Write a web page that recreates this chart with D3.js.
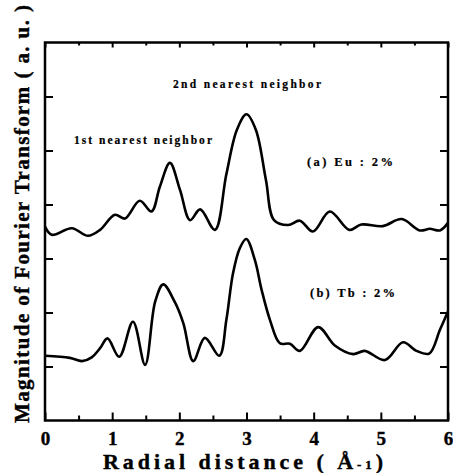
<!DOCTYPE html>
<meta charset="utf-8">
<style>
  body { margin: 0; background: #fff; }
  text { font-family: "Liberation Serif", "Times New Roman", serif; font-weight: 700; fill: #000; stroke: #000; stroke-width: 0.4px; }
  .curve { fill: none; stroke: #000; stroke-width: 2.6px; stroke-linejoin: round; }
</style>
<svg width="453" height="473"></svg>
<script src="https://cdn.jsdelivr.net/npm/d3@7"></script>
<script>

// radial distance (x) / magnitude (y, arbitrary units, curves offset)
var euX = [0, 0.10, 0.40, 0.64, 0.82, 1.04, 1.19, 1.41, 1.585, 1.71, 1.86, 2.01, 2.16, 2.31, 2.53, 2.70, 2.856, 3.0, 3.14, 3.29, 3.41, 3.62, 3.795, 3.99, 4.24, 4.53, 4.71, 5.03, 5.31, 5.58, 5.73, 5.88, 6.0];
var euY = [3.59, 3.44, 3.56, 3.42, 3.53, 3.81, 3.74, 4.07, 3.87, 4.33, 4.77, 4.27, 3.71, 3.91, 3.53, 4.56, 5.38, 5.67, 5.38, 4.45, 3.71, 3.62, 3.70, 3.50, 3.87, 3.53, 3.63, 3.60, 3.73, 3.52, 3.55, 3.52, 3.66];

var tbX = [0, 0.37, 0.55, 0.695, 0.82, 0.93, 1.105, 1.31, 1.49, 1.64, 1.76, 1.93, 2.06, 2.207, 2.38, 2.595, 2.70, 2.80, 2.90, 2.997, 3.125, 3.225, 3.35, 3.497, 3.646, 3.795, 4.067, 4.315, 4.588, 4.76, 5.06, 5.33, 5.53, 5.72, 5.88, 6.0];
var tbY = [1.20, 1.16, 1.10, 1.17, 1.34, 1.52, 1.18, 1.83, 1.03, 2.20, 2.52, 2.20, 1.80, 1.10, 1.53, 1.20, 1.86, 2.73, 3.19, 3.36, 2.97, 2.42, 1.86, 1.43, 1.42, 1.29, 1.73, 1.39, 1.23, 1.29, 1.12, 1.45, 1.29, 1.24, 1.68, 2.02];

var xTicks = [0, 1, 2, 3, 4, 5, 6];
var xMinor = [0.5, 1.5, 2.5, 3.5, 4.5, 5.5];
var yTicks = [1, 2, 3, 4, 5, 6];

var svg = d3.select("svg"),
    margin = {top: 42.5, right: 5, bottom: 52.5, left: 45},
    width = +svg.attr("width") - margin.left - margin.right,
    height = +svg.attr("height") - margin.top - margin.bottom,
    g = svg.append("g").attr("transform", "translate(" + margin.left + "," + margin.top + ")");

var x = d3.scaleLinear().domain([0, 6]).range([0, width]);
var y = d3.scaleLinear().domain([0, 7]).range([height, 0]);

var line = d3.line()
    .x(function(d) { return x(d[0]); })
    .y(function(d) { return y(d[1]); })
    .curve(d3.curveCatmullRom.alpha(0.5));

function axisStyle(sel) {
  sel.select(".domain").remove();
  sel.selectAll("line").attr("stroke", "#000").attr("stroke-width", 2);
}

// bottom axis with labels
g.append("g")
    .attr("transform", "translate(0," + height + ")")
    .call(d3.axisBottom(x).tickValues(xTicks).tickSize(-8).tickPadding(11).tickFormat(d3.format("d")))
    .call(axisStyle)
    .call(function(s) {
      s.attr("font-family", null).attr("font-size", null);
      s.selectAll("text").style("font-size", "19px");
    });
g.append("g")
    .attr("transform", "translate(0," + height + ")")
    .call(d3.axisBottom(x).tickValues(xMinor).tickSize(-5).tickFormat(""))
    .call(axisStyle);

// top axis
g.append("g")
    .call(d3.axisTop(x).tickValues(xTicks).tickSize(-5).tickFormat(""))
    .call(axisStyle);
g.append("g")
    .call(d3.axisTop(x).tickValues(xMinor).tickSize(-3).tickFormat(""))
    .call(axisStyle);

// left / right axes
g.append("g")
    .call(d3.axisLeft(y).tickValues(yTicks).tickSize(-8).tickFormat(""))
    .call(axisStyle);
g.append("g")
    .attr("transform", "translate(" + width + ",0)")
    .call(d3.axisRight(y).tickValues(yTicks).tickSize(-8).tickFormat(""))
    .call(axisStyle);

// frame
g.append("rect")
    .attr("width", width)
    .attr("height", height)
    .attr("fill", "none")
    .attr("stroke", "#000")
    .attr("stroke-width", 2.5);

g.append("path")
    .datum(d3.zip(euX, euY))
    .attr("class", "curve")
    .attr("d", line);

g.append("path")
    .datum(d3.zip(tbX, tbY))
    .attr("class", "curve")
    .attr("d", line);

// annotations
function note(txt, x0, x1, yb, size) {
  svg.append("text")
      .attr("x", x0)
      .attr("y", yb)
      .attr("textLength", x1 - x0)
      .attr("lengthAdjust", "spacing")
      .style("font-size", size + "px")
      .style("stroke-width", "0.2px")
      .text(txt);
}
note("2nd nearest neighbor", 173, 321, 88, 11.5);
note("1st nearest neighbor", 74, 212, 144, 11.5);
note("(a) Eu : 2%", 307, 393, 166, 12.5);
note("(b) Tb : 2%", 310, 395, 297, 12.5);

// axis titles
svg.append("text")
    .attr("transform", "translate(29,423) rotate(-90)")
    .attr("textLength", 418)
    .attr("lengthAdjust", "spacing")
    .style("font-size", "21px")
    .text("Magnitude of Fourier Transform ( a. u. )");

var xt = svg.append("text")
    .attr("x", 103)
    .attr("y", 469)
    .attr("textLength", 280)
    .attr("lengthAdjust", "spacing")
    .style("font-size", "22px");
xt.append("tspan").text("Radial distance ( Å");
xt.append("tspan").style("font-size", "13px").text("-1");
xt.append("tspan").text(")");

</script>
